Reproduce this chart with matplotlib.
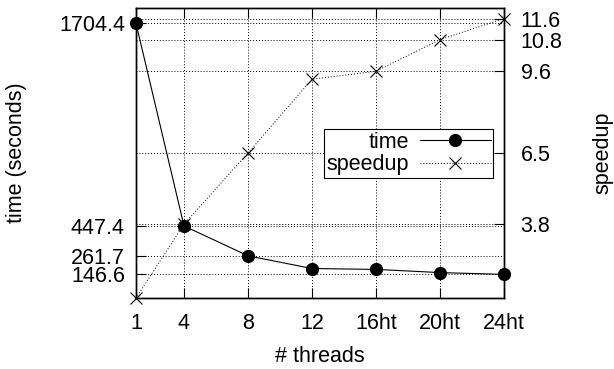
import matplotlib
matplotlib.use("Agg")
import matplotlib.pyplot as plt
from matplotlib.lines import Line2D

plt.rcParams['font.family'] = ['Liberation Sans', 'DejaVu Sans']

# data
threads = [1, 4, 8, 12, 16, 20, 24]
thread_labels = ["1", "4", "8", "12", "16ht", "20ht", "24ht"]
time_s = [1704.4, 447.4, 261.7, 183.0, 177.5, 157.8, 146.6]
speedup = [1.0, 3.8, 6.5, 9.3, 9.6, 10.8, 11.6]
time_ticks = [146.6, 261.7, 447.4, 1704.4]
speedup_ticks = [3.8, 6.5, 9.6, 10.8, 11.6]

fs = 15.5
grid_kw = dict(linestyle=(0, (1, 2)), color="black", linewidth=0.7)

fig = plt.figure(figsize=(6.14, 3.69), dpi=100)
ax = fig.add_axes([136 / 614, 1 - 298 / 369, 368 / 614, 290 / 369])
ax2 = ax.twinx()

ax.plot(threads, time_s, color="black", linewidth=0.8, marker="o",
        markersize=8.5, label="time", clip_on=False, zorder=3)
ax2.plot(threads, speedup, color="black", linewidth=0.7, linestyle=(0, (1, 2)),
         marker="x", markersize=8, markeredgewidth=0.8, label="speedup",
         clip_on=False, zorder=3)

ax.set_xlim(1, 24)
ax.set_ylim(0, 1800)
ax2.set_ylim(1, 12)

ax.set_xticks(threads)
ax.set_xticklabels(thread_labels, fontsize=fs)
ax.set_yticks(time_ticks)
ax.set_yticklabels([f"{v:.1f}" for v in time_ticks], fontsize=fs)
ax2.set_yticks(speedup_ticks)
ax2.set_yticklabels([f"{v:.1f}" for v in speedup_ticks], fontsize=fs)

ax.tick_params(axis="x", direction="in", top=True, length=7, width=0.8, pad=11)
ax.tick_params(axis="y", direction="in", right=False, length=7, width=0.8, pad=8)
ax2.tick_params(axis="y", direction="in", length=7, width=0.8, pad=12)

ax.grid(True, **grid_kw)
ax2.grid(True, axis="y", **grid_kw)
ax.set_axisbelow(True)

for a in (ax, ax2):
    for s in a.spines.values():
        s.set_linewidth(1.0)

fig.text(17 / 614, 1 - 153 / 369, "time (seconds)", fontsize=fs, rotation=90,
         ha="center", va="center")
fig.text(603 / 614, 1 - 153 / 369, "speedup", fontsize=fs, rotation=90,
         ha="center", va="center")
fig.text(320 / 614, 1 - 356 / 369, "# threads", fontsize=fs,
         ha="center", va="center")

handles = [
    Line2D([], [], color="black", linewidth=0.8, marker="o", markersize=8.5),
    Line2D([], [], color="black", linewidth=0.7, linestyle=(0, (1, 2)),
           marker="x", markersize=8, markeredgewidth=0.8),
]
leg = ax2.legend(handles, ["time", "speedup"], markerfirst=False, fontsize=fs,
                 loc="upper left", bbox_to_anchor=((324 - 136) / 368, 1 - (129 - 8) / 290),
                 frameon=True, fancybox=False, framealpha=1, edgecolor="black",
                 borderpad=0.12, labelspacing=0.08, handlelength=3.3,
                 handletextpad=0.5, borderaxespad=0)
leg.get_frame().set_linewidth(0.8)
for t in leg.get_texts():
    t.set_ha("right")

fig.savefig("out.png", dpi=100)
